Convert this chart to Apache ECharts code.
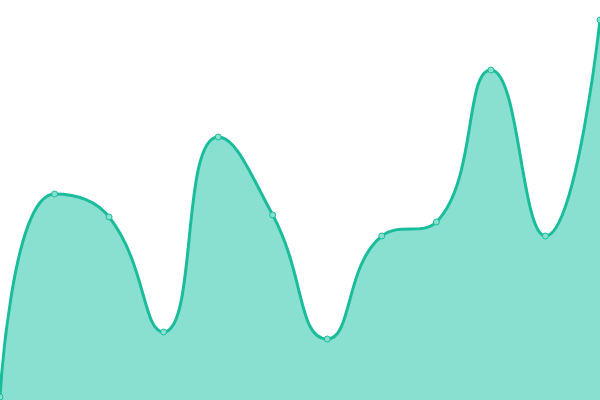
<!DOCTYPE html>
<html>
<head>
<meta charset="utf-8">
<script src="https://cdn.jsdelivr.net/npm/echarts@6/dist/echarts.min.js"></script>
<style>
  html, body { margin: 0; padding: 0; background: #fff; }
  #main { width: 600px; height: 400px; }
</style>
</head>
<body>
<div id="main"></div>
<script>
const categories = ['1', '2', '3', '4', '5', '6', '7', '8', '9', '10', '11', '12']
const values = [3, 206, 183, 68, 263, 185, 61, 164, 178, 330, 164, 380]

const myChart = echarts.init(document.getElementById('main'))

const option = {
  animation: false,
  grid: { left: 0, right: 0, top: 0, bottom: 0 },
  xAxis: {
    type: 'category',
    data: categories,
    boundaryGap: false,
    show: false
  },
  yAxis: {
    type: 'value',
    min: 0,
    max: 400,
    show: false
  },
  series: [
    {
      type: 'line',
      data: values,
      smooth: true,
      symbol: 'circle',
      symbolSize: 6,
      lineStyle: { color: '#1abc9c', width: 3 },
      itemStyle: { color: '#8ae0cf', borderColor: '#1abc9c', borderWidth: 1 },
      areaStyle: { color: '#8ae0d0', opacity: 1 }
    }
  ]
}

option && myChart.setOption(option)

window.addEventListener('resize', function () {
  myChart.resize()
})
</script>
</body>
</html>
